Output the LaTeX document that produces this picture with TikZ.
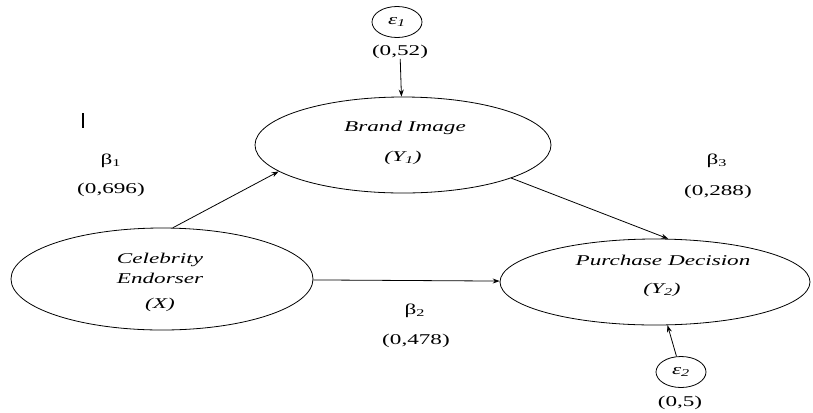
\documentclass[tikz,border=0pt]{standalone}
\usepackage{fontspec}
\usepackage{graphicx}
\setmainfont{Liberation Serif}
\usetikzlibrary{arrows.meta,shapes.geometric}
\newcommand{\wide}[1]{\scalebox{1.55}[1]{#1}}
\tikzset{
  latent/.style={draw, ellipse, line width=0.8bp, inner sep=0pt},
  resid/.style={draw, ellipse, line width=0.8bp, minimum width=50bp, minimum height=31bp, inner sep=0pt},
  lbl/.style={inner sep=0pt, font=\fontsize{15}{17}\selectfont},
  path/.style={line width=0.8bp, -{Stealth[length=7bp,width=5bp]}}
}
\begin{document}
\begin{tikzpicture}[x=1bp, y=-1bp]
\useasboundingbox (0,0) rectangle (813,412);

% latent variables
\node[latent, minimum width=296bp, minimum height=96bp] (y1) at (403,145) {};
\node[latent, minimum width=302bp, minimum height=102bp] (x) at (162,279) {};
\node[latent, minimum width=310bp, minimum height=86bp] (y2) at (655,282) {};

\node[lbl] at (405,128) {\wide{\itshape Brand Image}};
\node[lbl] at (403,158) {\wide{\itshape (Y\textsubscript{1})}};
\node[lbl] at (160,260) {\wide{\itshape Celebrity}};
\node[lbl] at (160,278) {\wide{\itshape Endorser}};
\node[lbl] at (160,305) {\wide{\itshape (X)}};
\node[lbl] at (663,260) {\wide{\itshape Purchase Decision}};
\node[lbl] at (662,290) {\wide{\itshape (Y\textsubscript{2})}};

% residual terms
\node[resid] (e1) at (397,22) {};
\node[lbl] at (397,22) {\wide{\itshape ε\textsubscript{1}}};
\node[lbl] (e1v) at (400,52) {\wide{(0,52)}};
\node[resid] (e2) at (681,372) {};
\node[lbl] at (681,372) {\wide{\itshape ε\textsubscript{2}}};
\node[lbl] (e2v) at (680,403) {\wide{(0,5)}};

% path coefficients
\node[lbl] (b1) at (111,161) {\wide{β\textsubscript{1}}};
\node[lbl] (b1v) at (111,190) {\wide{(0,696)}};
\node[lbl] (b3) at (717,161) {\wide{β\textsubscript{3}}};
\node[lbl] (b3v) at (718,192) {\wide{(0,288)}};
\node[lbl] (b2) at (415,311) {\wide{β\textsubscript{2}}};
\node[lbl] (b2v) at (416,341) {\wide{(0,478)}};

% stray mark
\draw[line width=1.3bp] (83,113) -- (83,128);

% paths
\draw[path] (e1v) -- (y1);
\draw[path] (e2) -- (y2);
\draw[path] (x.78) -- (y1.192);
\draw[path] (y1.-17) -- (y2.73);
\draw[path] (x) -- (y2);
\end{tikzpicture}
\end{document}
